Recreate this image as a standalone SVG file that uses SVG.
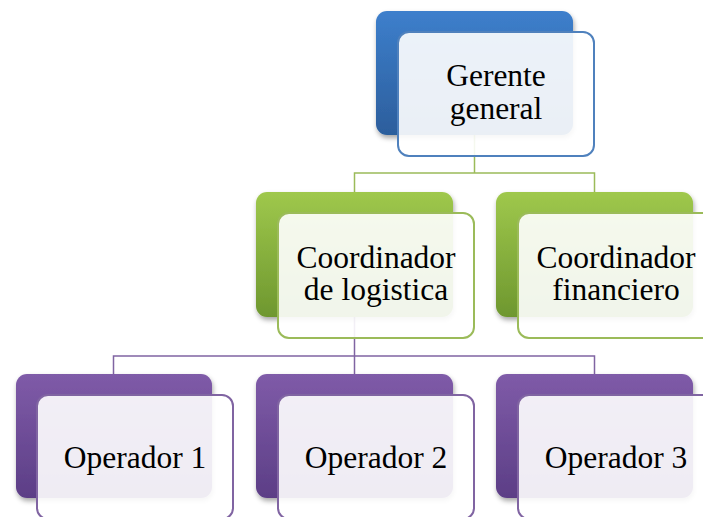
<svg xmlns="http://www.w3.org/2000/svg" width="703" height="517" viewBox="0 0 703 517">
  <defs>
    <linearGradient id="gBlue" x1="0" y1="0" x2="0" y2="1">
      <stop offset="0" stop-color="#3d7fcc"/>
      <stop offset="1" stop-color="#2c5e9c"/>
    </linearGradient>
    <linearGradient id="gGreen" x1="0" y1="0" x2="0" y2="1">
      <stop offset="0" stop-color="#9fc84c"/>
      <stop offset="1" stop-color="#6e972f"/>
    </linearGradient>
    <linearGradient id="gPurple" x1="0" y1="0" x2="0" y2="1">
      <stop offset="0" stop-color="#7f5ba8"/>
      <stop offset="1" stop-color="#5c3e86"/>
    </linearGradient>
    <filter id="shadow" x="-10%" y="-10%" width="125%" height="130%">
      <feDropShadow dx="1" dy="3" stdDeviation="2.5" flood-color="#000" flood-opacity="0.35"/>
    </filter>
  </defs>
  <style>
    .back { filter: url(#shadow); }
    .front { fill: #ffffff; fill-opacity: 0.9; stroke-width: 2; }
    .txt { font-family: "Liberation Serif", "Times New Roman", Times, Tinos, "Nimbus Roman", "Noto Serif", "DejaVu Serif", serif; font-size: 31.5px; fill: #000; text-anchor: middle; }
    .cg { fill: none; stroke: #9bbb59; stroke-width: 1.5; }
    .cp { fill: none; stroke: #8064a2; stroke-width: 1.5; }
  </style>
  <rect width="703" height="517" fill="#ffffff"/>

  <g id="connectors">
    <path class="cg" d="M474.5,135 V173 H354.5 V192 M474.5,173 H594.5 V192"/>
    <path class="cp" d="M354.5,317 V356 H113.5 V374 M354.5,356 V374 M354.5,356 H594.5 V374"/>
  </g>

  <g id="gerente">
    <rect class="back" x="376" y="11" width="197" height="124" rx="11" fill="url(#gBlue)"/>
    <rect class="front" x="398" y="32" width="196" height="124" rx="11" stroke="#4f81bd"/>
    <text class="txt" x="496" y="86">Gerente</text>
    <text class="txt" x="496" y="119">general</text>
  </g>

  <g id="coord-logistica">
    <rect class="back" x="256" y="192" width="197" height="125" rx="11" fill="url(#gGreen)"/>
    <rect class="front" x="278" y="213" width="196" height="125" rx="11" stroke="#9bbb59"/>
    <text class="txt" x="376" y="268">Coordinador</text>
    <text class="txt" x="376" y="300">de logistica</text>
  </g>

  <g id="coord-financiero">
    <rect class="back" x="496" y="192" width="197" height="125" rx="11" fill="url(#gGreen)"/>
    <rect class="front" x="518" y="213" width="196" height="125" rx="11" stroke="#9bbb59"/>
    <text class="txt" x="616" y="268">Coordinador</text>
    <text class="txt" x="616" y="300">financiero</text>
  </g>

  <g id="operador1">
    <rect class="back" x="16" y="374" width="196" height="124" rx="11" fill="url(#gPurple)"/>
    <rect class="front" x="37" y="395" width="196" height="124" rx="11" stroke="#8064a2"/>
    <text class="txt" x="135" y="468">Operador 1</text>
  </g>

  <g id="operador2">
    <rect class="back" x="256" y="374" width="197" height="124" rx="11" fill="url(#gPurple)"/>
    <rect class="front" x="278" y="395" width="196" height="124" rx="11" stroke="#8064a2"/>
    <text class="txt" x="376" y="468">Operador 2</text>
  </g>

  <g id="operador3">
    <rect class="back" x="496" y="374" width="197" height="124" rx="11" fill="url(#gPurple)"/>
    <rect class="front" x="518" y="395" width="196" height="124" rx="11" stroke="#8064a2"/>
    <text class="txt" x="616" y="468">Operador 3</text>
  </g>
</svg>
